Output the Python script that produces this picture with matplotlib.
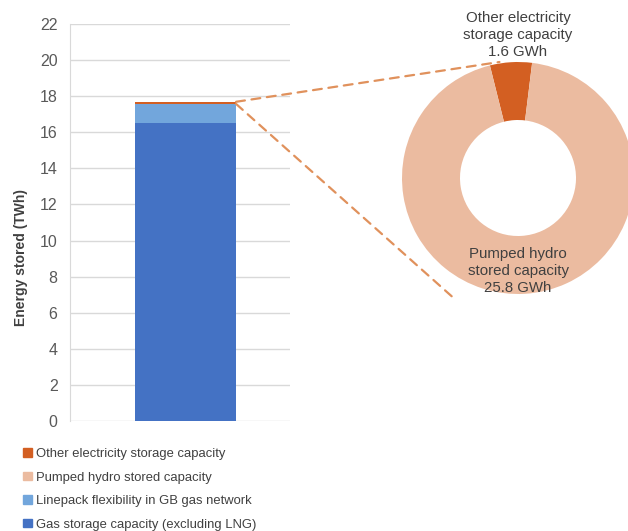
import matplotlib
matplotlib.use("Agg")
import matplotlib.pyplot as plt
from matplotlib.patches import ConnectionPatch, Patch

plt.rcParams['font.family'] = ['Liberation Sans', 'DejaVu Sans']

# ---- data ----
series_names = ["Gas storage capacity (excluding LNG)",
                "Linepack flexibility in GB gas network",
                "Pumped hydro stored capacity",
                "Other electricity storage capacity"]
series_values_twh = [16.5, 1.06, 0.03, 0.1]
series_colors = ["#4472C4", "#72A6DC", "#EBBBA0", "#D35F22"]

donut_names = ["Other electricity\nstorage capacity", "Pumped hydro\nstored capacity"]
donut_values_gwh = [1.6, 25.8]
donut_colors = ["#D35F22", "#EBBBA0"]

yticks = list(range(0, 23, 2))

W, H = 628, 531
fig = plt.figure(figsize=(W / 100, H / 100), dpi=100)

# ---- bar axes ----
ax = fig.add_axes([70 / W, 1 - 421 / H, 220 / W, 397 / H])
bottom = 0
for name, v, c in zip(series_names, series_values_twh, series_colors):
    ax.bar(0, v, width=0.46, bottom=bottom, color=c, zorder=3, label=name)
    bottom += v
ax.set_xlim(-0.525, 0.475)
ax.set_ylim(0, 22)
ax.set_yticks(yticks)
ax.set_xticks([])
ax.grid(axis='y', color='#D9D9D9', linewidth=1, zorder=0)
for s in ['top', 'right', 'bottom']:
    ax.spines[s].set_visible(False)
ax.spines['left'].set_color('#D9D9D9')
ax.tick_params(axis='y', length=0, pad=9, labelsize=11.5, labelcolor='#595959')
ax.set_ylabel("Energy stored (TWh)", fontsize=10, fontweight='bold', color='#404040')
ax.yaxis.set_label_coords((28 - 70) / 220, (421 - 257) / 397)

# ---- legend ----
handles = [Patch(color=c) for c in series_colors][::-1]
labels = series_names[::-1]
fig.legend(handles, labels, loc='upper left', bbox_to_anchor=(18 / W, 1 - 443 / H),
           frameon=False, fontsize=9.4, labelcolor='#404040', handlelength=0.65,
           handleheight=0.65, handletextpad=0.3, labelspacing=0.88, borderaxespad=0)

# ---- donut ----
R = 116
cx, cy = 518, 178
pax = fig.add_axes([(cx - R) / W, 1 - (cy + R) / H, 2 * R / W, 2 * R / H])
pax.pie(donut_values_gwh, colors=donut_colors, startangle=83, counterclock=True,
        radius=1, wedgeprops=dict(width=0.5, edgecolor='none'))
pax.set_xlim(-1, 1)
pax.set_ylim(-1, 1)
pax.set_aspect('equal')
pax.axis('off')
for a in pax.patches:
    a.set_clip_on(False)

fig.text(cx / W, 1 - 35 / H, f"{donut_names[0]}\n{donut_values_gwh[0]} GWh",
         ha='center', va='center', fontsize=10.8, color='#404040', linespacing=1.3)
fig.text(cx / W, 1 - 271 / H, f"{donut_names[1]}\n{donut_values_gwh[1]} GWh",
         ha='center', va='center', fontsize=10.8, color='#404040', linespacing=1.3)

# ---- dashed connectors ----
top = sum(series_values_twh)
for ya, pb in [(top, (-0.16, 1.0)), (top - 0.12, (-0.56, -1.03))]:
    con = ConnectionPatch(xyA=(0.23, ya), coordsA=ax.transData,
                          xyB=pb, coordsB=pax.transData,
                          linestyle=(0, (4, 3)), color='#E0915C', linewidth=1.6)
    fig.add_artist(con)

fig.savefig("out.png", dpi=100)
